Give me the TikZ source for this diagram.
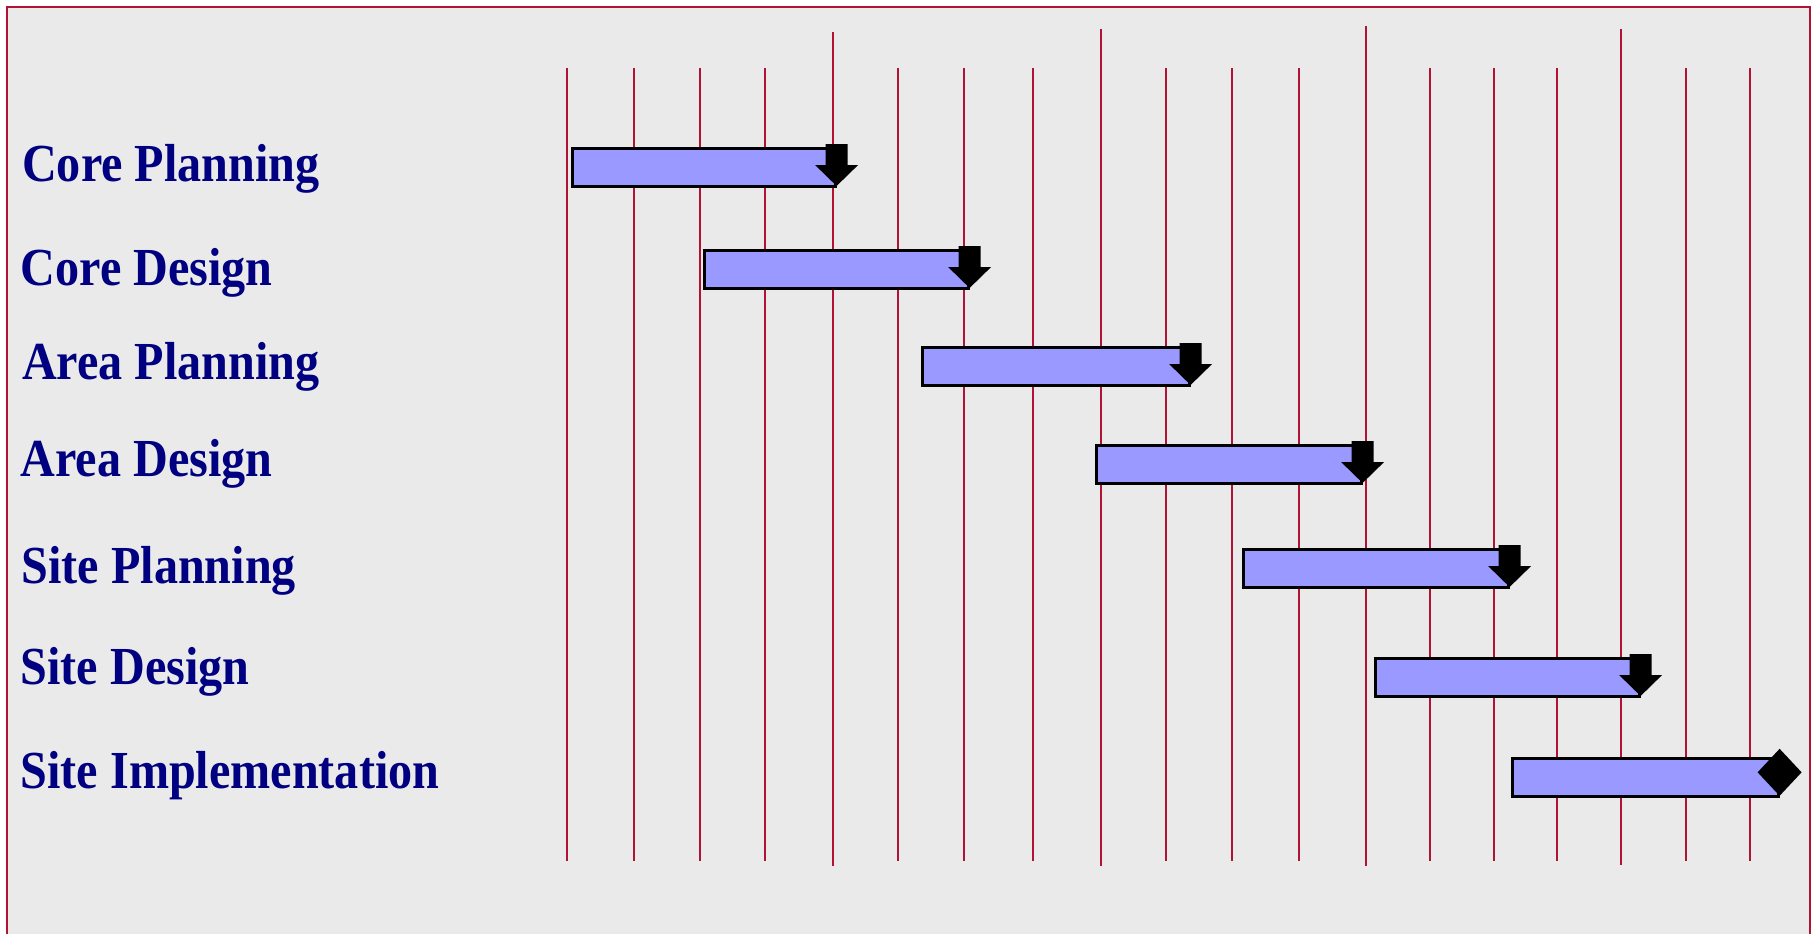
\documentclass[tikz,border=0pt]{standalone}
\usepackage{fontspec}
\setmainfont{Liberation Serif}
\usetikzlibrary{calc}
\definecolor{framered}{RGB}{178,18,52}
\definecolor{panelgray}{RGB}{234,234,234}
\definecolor{barblue}{RGB}{153,153,255}
\definecolor{labelnavy}{RGB}{0,0,128}
\begin{document}
\begin{tikzpicture}[x=1pt,y=-1pt,
  gridline/.style={draw=framered, line width=2.4pt},
  taskbar/.style={fill=barblue, draw=black, line width=2.6pt, anchor=north west,
    inner sep=0pt, minimum height=38pt},
  tasklabel/.style={anchor=base west, inner sep=0pt, text=labelnavy,
    font=\fontsize{53.5}{60}\selectfont\bfseries},
  endmark/.style={fill=black}
]
\useasboundingbox (0,0) rectangle (1815,934);
\fill[white] (0,0) rectangle (1815,934);
% panel and its frame (open at the bottom)
\fill[panelgray] (7,7) rectangle (1810,934);
\draw[framered, line width=2.8pt] (7,940) -- (7,7) -- (1810,7) -- (1810,940);

% time grid: short and long ticks
\foreach \x/\t/\b in {567/68/861, 634/68/861, 700/68/861, 765/68/861,
    833/32/866, 898/68/861, 964/68/861, 1033/68/861, 1101/29/866,
    1166/68/861, 1232/68/861, 1299/68/861, 1366/26/866, 1430/68/861,
    1494/68/861, 1557/68/861, 1621/29/865, 1686/68/861, 1750/68/861}
  \draw[gridline] (\x,\t) -- (\x,\b);

% task names
\node[tasklabel] (lbl1) at (22,181.7) {\scalebox{0.9}[1]{Core Planning}};
\node[tasklabel] (lbl2) at (20.5,285)  {\scalebox{0.9}[1]{Core Design}};
\node[tasklabel] (lbl3) at (22,379)    {\scalebox{0.9}[1]{Area Planning}};
\node[tasklabel] (lbl4) at (20.5,476.7) {\scalebox{0.9}[1]{Area Design}};
\node[tasklabel] (lbl5) at (21.5,583)  {\scalebox{0.9}[1]{Site Planning}};
\node[tasklabel] (lbl6) at (20.5,684.3) {\scalebox{0.9}[1]{Site Design}};
\node[tasklabel] (lbl7) at (20.5,788.3) {\scalebox{0.9}[1]{Site Implementation}};

% task bars
\foreach \i/\l/\t/\w in {1/571/147/263, 2/703/249/264, 3/921/346/267,
    4/1095/444/265, 5/1242/548/265, 6/1374/657/264, 7/1511/757/266}
  \node[taskbar, minimum width=\w pt] (bar\i) at (\l,\t) {};

% finish arrows
\foreach \i in {1,...,6}
  \fill[endmark] ($(bar\i.north east)+(-11,-3)$) -- ($(bar\i.north east)+(11,-3)$)
    -- ($(bar\i.north east)+(11,18)$) -- ($(bar\i.north east)+(21.5,18)$)
    -- ($(bar\i.north east)+(0,39)$) -- ($(bar\i.north east)+(-21.5,18)$)
    -- ($(bar\i.north east)+(-11,18)$) -- cycle;

% final milestone
\coordinate (ms) at ($(bar7.east)+(0,-5)$);
\fill[endmark] ($(ms)+(0,-23.5)$) -- ($(ms)+(22,0)$) -- ($(ms)+(0,23.5)$)
  -- ($(ms)+(-22,0)$) -- cycle;
\end{tikzpicture}
\end{document}
